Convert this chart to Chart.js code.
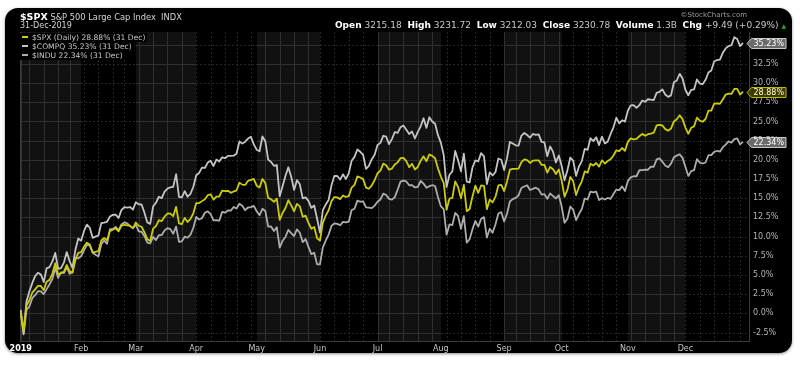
<!DOCTYPE html>
<html><head><meta charset="utf-8">
<script src="https://cdn.jsdelivr.net/npm/chart.js@4.4.1/dist/chart.umd.min.js"></script>
<style>
html,body{margin:0;padding:0;background:#fff;}
#wrap{position:relative;width:800px;height:370px;overflow:hidden;font-family:"DejaVu Sans",sans-serif;}
#panel{position:absolute;left:5px;top:8px;width:787px;height:345px;background:#000;border-radius:13px;box-shadow:0 1px 3px rgba(0,0,0,.45);}
canvas{position:absolute;left:0;top:0;}
.t{position:absolute;white-space:nowrap;color:#d4d4d4;}
.t b{color:#fff;}
.lg{position:absolute;left:20px;top:33px;font-size:7.6px;line-height:9px;color:#c8c8c8;}
.lg div{display:block;}
.lg span.row{background:#000;padding-right:2px;}
.mk{display:inline-block;width:6px;height:2px;margin:0 4px 2px 2px;vertical-align:middle;}
</style></head>
<body>
<div id="wrap">
  <div id="panel"></div>
  <canvas id="c" width="800" height="370"></canvas>
  <div class="t" style="left:20px;top:11px;font-size:8.3px;line-height:11px;"><b style="font-size:9.5px;">$SPX</b> S&amp;P 500 Large Cap Index&nbsp; INDX</div>
  <div class="t" style="left:20px;top:21px;font-size:8px;line-height:10px;">31-Dec-2019</div>
  <div class="lg">
    <div><span class="row"><span class="mk" style="background:#cccc00"></span>$SPX (Daily) 28.88% (31 Dec)</span></div>
    <div><span class="row"><span class="mk" style="background:#c4c4c4"></span>$COMPQ 35.23% (31 Dec)</span></div>
    <div><span class="row"><span class="mk" style="background:#adadad"></span>$INDU 22.34% (31 Dec)</span></div>
  </div>
  <div class="t" style="right:53px;top:10px;font-size:7px;line-height:10px;color:#9a9a9a;">©StockCharts.com</div>
  <div class="t" style="right:14px;top:20px;font-size:9px;line-height:11px;color:#c8c8c8;"><b>Open</b> 3215.18 &nbsp;<b>High</b> 3231.72 &nbsp;<b>Low</b> 3212.03 &nbsp;<b>Close</b> 3230.78 &nbsp;<b>Volume</b> 1.3B &nbsp;<b>Chg</b> +9.49 (+0.29%) <span style="color:#19b219;font-size:6px;">▲</span></div>
</div>
<script>
// ---- data ----
const monthNames = ['Jan','Feb','Mar','Apr','May','Jun','Jul','Aug','Sep','Oct','Nov','Dec'];
const monthTickLabels = ['2019','Feb','Mar','Apr','May','Jun','Jul','Aug','Sep','Oct','Nov','Dec'];
const tradingDays = [
  [2,3,4,7,8,9,10,11,14,15,16,17,18,22,23,24,25,28,29,30,31],
  [1,4,5,6,7,8,11,12,13,14,15,19,20,21,22,25,26,27,28],
  [1,4,5,6,7,8,11,12,13,14,15,18,19,20,21,22,25,26,27,28,29],
  [1,2,3,4,5,8,9,10,11,12,15,16,17,18,22,23,24,25,26,29,30],
  [1,2,3,6,7,8,9,10,13,14,15,16,17,20,21,22,23,24,28,29,30,31],
  [3,4,5,6,7,10,11,12,13,14,17,18,19,20,21,24,25,26,27,28],
  [1,2,3,5,8,9,10,11,12,15,16,17,18,19,22,23,24,25,26,29,30,31],
  [1,2,5,6,7,8,9,12,13,14,15,16,19,20,21,22,23,26,27,28,29,30],
  [3,4,5,6,9,10,11,12,13,16,17,18,19,20,23,24,25,26,27,30],
  [1,2,3,4,7,8,9,10,11,14,15,16,17,18,21,22,23,24,25,28,29,30,31],
  [1,4,5,6,7,8,11,12,13,14,15,18,19,20,21,22,25,26,27,29],
  [2,3,4,5,6,9,10,11,12,13,16,17,18,19,20,23,24,26,27,30,31]
];
// % change since 31-Dec-2018
const spx = [
  0.13,-2.35,1.00,1.71,2.69,3.12,3.58,3.57,3.02,4.13,4.36,5.15,6.54,5.03,5.26,5.40,6.30,5.47,5.31,6.95,7.87,
  7.97,8.70,9.21,8.97,7.95,8.02,8.10,9.49,9.82,9.53,10.72,10.89,11.08,10.69,11.40,11.54,11.45,11.39,11.08,
  11.84,11.41,11.28,10.56,9.66,9.42,11.03,11.36,12.13,12.03,12.59,13.01,12.99,12.66,13.88,11.72,11.63,12.43,11.91,12.31,13.07,
  14.37,14.37,14.62,14.86,15.39,15.51,14.81,15.21,15.22,15.98,15.91,15.96,15.70,15.88,16.00,17.03,16.77,16.73,17.27,17.40,17.51,
  16.63,16.38,17.50,16.98,15.05,14.86,14.52,14.94,12.17,13.07,13.73,14.74,14.07,13.30,14.26,13.94,12.58,12.73,11.79,11.02,11.25,9.78,
  9.48,11.82,12.74,13.43,14.62,15.15,15.11,14.88,15.35,15.16,15.27,16.39,16.74,17.84,17.70,17.49,16.38,16.23,16.68,17.35,
  18.25,18.60,19.51,19.29,18.71,18.86,19.40,19.67,20.22,20.24,19.83,19.05,19.48,18.74,19.07,19.89,20.45,19.82,20.70,20.51,20.20,18.89,
  17.82,16.96,13.48,14.96,15.04,17.20,16.43,14.99,16.73,13.31,13.59,15.23,16.63,15.70,16.66,16.60,13.57,14.82,14.45,15.20,16.66,16.74,
  15.93,17.19,18.71,18.82,18.81,18.85,19.71,20.05,19.97,19.59,19.90,19.94,19.94,19.36,19.34,18.34,19.07,18.78,18.15,18.74,
  17.29,15.19,16.11,17.76,17.23,15.41,16.46,17.20,18.49,18.32,19.50,19.26,19.59,19.12,19.94,19.51,19.85,20.08,20.57,21.24,21.14,21.54,21.17,
  22.34,22.79,22.65,22.73,23.07,23.38,23.14,23.34,23.42,23.53,24.48,24.54,24.47,24.00,23.80,24.07,25.00,25.28,25.80,25.30,
  24.21,23.39,24.17,24.36,25.49,25.10,24.96,25.32,26.40,26.41,27.31,27.35,27.30,27.86,28.50,28.61,28.58,29.24,29.25,28.50,28.88
];
const compq = [
  0.46,-2.59,1.56,2.84,3.94,4.85,5.29,5.07,4.08,5.86,6.02,6.77,7.87,5.80,5.89,6.60,7.98,6.79,5.92,8.26,9.74,
  9.47,10.73,11.56,11.15,9.84,9.99,10.14,11.75,11.83,11.93,12.62,12.83,12.87,12.42,13.45,13.85,13.78,13.85,13.52,
  14.47,14.20,14.18,13.12,11.85,11.65,13.91,14.40,15.19,15.01,15.87,16.26,16.41,16.48,18.14,15.18,15.11,15.92,15.19,15.58,16.49,
  17.99,18.29,18.99,18.94,19.64,19.87,19.20,20.03,19.77,20.33,20.21,20.51,20.52,20.54,20.80,22.39,22.11,22.36,22.77,23.01,22.01,
  21.32,21.12,23.04,22.43,20.02,19.71,19.22,19.32,15.25,16.57,17.89,19.03,17.80,16.08,17.34,16.81,14.97,15.10,14.65,13.75,14.05,12.33,
  10.52,13.44,14.17,14.77,16.68,17.90,17.89,17.44,18.11,17.50,18.23,19.87,20.38,21.34,21.05,20.65,18.83,19.21,20.08,20.66,
  21.94,22.21,23.13,23.01,22.05,22.70,23.62,23.52,24.25,24.46,23.93,23.36,23.69,22.78,23.64,24.36,25.41,24.16,25.54,24.99,24.69,23.21,
  22.24,20.63,16.44,18.05,18.50,21.16,19.95,18.51,20.81,17.16,17.05,19.00,19.93,19.79,20.87,20.44,16.83,18.36,17.96,18.41,20.17,20.01,
  18.67,20.22,22.33,22.12,21.89,21.84,23.12,23.50,23.23,22.88,23.37,23.24,23.32,22.34,22.26,20.47,21.73,21.03,19.66,20.56,
  19.19,17.33,18.64,20.30,19.91,17.91,19.12,19.83,21.43,21.30,22.81,22.44,22.93,21.92,23.02,22.14,22.37,23.37,24.23,25.48,24.74,25.15,24.97,
  26.39,27.10,27.12,26.76,27.12,27.73,27.56,27.89,27.83,27.79,28.72,28.86,29.17,28.51,28.20,28.40,30.10,30.33,31.20,30.60,
  29.13,28.41,29.11,29.17,30.46,29.94,29.85,30.42,31.38,31.64,32.84,32.98,33.04,33.94,34.51,34.82,34.93,35.98,35.74,34.82,35.23
];
const indu = [
  0.08,-2.75,0.45,0.87,1.97,2.36,2.89,2.87,2.50,3.16,3.77,4.47,5.91,4.62,5.35,5.25,6.04,5.15,5.37,7.23,7.17,
  7.44,8.20,8.93,8.84,7.90,7.63,7.40,9.00,9.50,9.05,10.96,10.99,11.26,10.82,11.59,11.85,11.71,11.39,11.10,
  11.57,10.68,10.63,10.06,9.20,9.10,9.96,9.55,10.18,10.21,10.81,11.09,10.97,10.37,11.30,9.32,9.39,9.99,9.85,10.25,11.15,
  12.56,12.22,12.39,13.11,13.28,12.92,12.10,12.13,12.07,13.22,13.11,13.40,13.38,13.86,13.65,14.27,14.02,13.44,13.79,13.83,14.00,
  13.30,12.78,13.62,13.34,11.31,11.32,10.72,11.21,8.56,9.45,9.95,10.87,10.44,10.08,10.93,10.50,9.27,9.68,8.66,7.71,7.90,6.38,
  6.40,8.59,9.48,10.26,11.39,11.73,11.66,11.48,11.91,11.84,11.94,13.45,13.62,14.69,14.54,14.58,13.81,13.76,13.71,14.03,
  14.53,14.83,15.60,15.41,14.91,14.82,15.14,16.12,17.17,17.28,17.18,16.69,16.70,16.40,16.48,17.24,16.90,16.35,16.57,16.69,16.59,15.16,
  13.96,13.54,10.25,11.58,11.49,13.08,12.69,11.01,12.66,9.22,9.65,10.97,12.04,11.30,12.33,12.54,9.87,11.02,10.50,11.61,13.01,13.19,
  11.96,12.98,14.58,14.88,15.04,15.36,16.33,16.53,16.68,16.07,16.22,16.37,16.15,15.47,15.53,14.92,15.62,15.28,14.97,15.39,
  13.91,11.79,12.32,13.92,13.51,12.16,12.94,13.59,14.96,14.83,15.85,15.75,15.85,14.76,15.00,14.83,15.03,14.91,15.56,16.13,16.05,16.54,15.94,
  17.23,17.72,17.86,17.86,18.64,18.66,18.71,18.71,19.10,19.10,20.05,20.19,19.75,19.26,19.03,19.50,20.32,20.55,20.73,20.25,
  19.10,17.90,18.53,18.65,20.09,19.64,19.52,19.65,20.60,20.61,21.04,21.18,21.06,21.65,21.98,22.39,22.24,22.69,22.80,22.01,22.34
];
const seriesNames = ['$SPX', '$COMPQ', '$INDU'];

// ---- derived structure ----
const dates = [];
const monthStart = [];
tradingDays.forEach((days, m) => {
  monthStart.push(dates.length);
  days.forEach(d => dates.push({ m, d, dow: new Date(2019, m, d).getDay(), label: d + ' ' + monthNames[m] + ' 2019' }));
});
const weekStarts = dates.map((o, i) => (i === 0 || o.dow <= dates[i - 1].dow) ? i : -1).filter(i => i >= 0);
const toXY = arr => arr.map((v, i) => ({ x: i, y: v }));

const bandPlugin = {
  id: 'bands',
  beforeDatasetsDraw(chart) {
    const { ctx, chartArea: a, scales: { x, y } } = chart;
    ctx.save();
    ctx.beginPath(); ctx.rect(a.left, a.top, a.width, a.height); ctx.clip();
    monthStart.forEach((s, m) => {
      const e = m < 11 ? monthStart[m + 1] : dates.length;
      const x0 = m === 0 ? a.left : Math.round(x.getPixelForValue(s));
      const x1 = m === 11 ? a.right : Math.round(x.getPixelForValue(e));
      const light = m % 2 === 0;
      if (light) { ctx.fillStyle = '#111111'; ctx.fillRect(x0, a.top, x1 - x0, a.height); }
      ctx.lineWidth = 1;
      ctx.strokeStyle = light ? '#303030' : '#242424';
      ctx.setLineDash(light ? [] : [2, 2]);
      y.ticks.forEach(t => {
        const py = Math.round(y.getPixelForValue(t.value)) + 0.5;
        ctx.beginPath(); ctx.moveTo(x0, py); ctx.lineTo(x1, py); ctx.stroke();
      });
      weekStarts.filter(i => i >= s && i < e).forEach(i => {
        const px = Math.round(x.getPixelForValue(i)) + 0.5;
        ctx.beginPath(); ctx.moveTo(px, a.top); ctx.lineTo(px, a.bottom); ctx.stroke();
      });
    });
    ctx.setLineDash([]);
    ctx.strokeStyle = '#3c3c3c';
    ctx.beginPath(); ctx.moveTo(a.left + 0.5, a.top); ctx.lineTo(a.left + 0.5, a.bottom); ctx.stroke();
    ctx.restore();
  }
};

const boxStyles = [
  { fill: '#3b3b00', stroke: '#b8b800', text: '#ffffc8' },
  { fill: '#6a6a6a', stroke: '#c8c8c8', text: '#ffffff' },
  { fill: '#6a6a6a', stroke: '#c8c8c8', text: '#ffffff' }
];
const lastLabelPlugin = {
  id: 'lastLabels',
  afterDraw(chart) {
    const { ctx, chartArea: a } = chart;
    ctx.save();
    ctx.font = '8px "DejaVu Sans"';
    ctx.textBaseline = 'middle';
    chart.data.datasets.forEach((ds, di) => {
      const meta = chart.getDatasetMeta(di);
      const pt = meta.data[meta.data.length - 1];
      const v = ds.data[ds.data.length - 1].y;
      const txt = v.toFixed(2) + '%';
      const w = ctx.measureText(txt).width + 4;
      const yc = Math.round(pt.y) + 0.5, h = 10, x0 = a.right + 2.5;
      const st = boxStyles[di];
      ctx.beginPath();
      ctx.moveTo(a.right - 2, yc);
      ctx.lineTo(x0, yc - h / 2); ctx.lineTo(x0 + w, yc - h / 2);
      ctx.lineTo(x0 + w, yc + h / 2); ctx.lineTo(x0, yc + h / 2); ctx.closePath();
      ctx.fillStyle = st.fill; ctx.fill();
      ctx.lineWidth = 1; ctx.strokeStyle = st.stroke; ctx.stroke();
      ctx.fillStyle = st.text;
      ctx.fillText(txt, x0 + 2, yc + 0.5);
    });
    ctx.restore();
  }
};

new Chart(document.getElementById('c'), {
  type: 'line',
  data: {
    datasets: [
      { label: seriesNames[0], data: toXY(spx), borderColor: '#cccc00', borderWidth: 1.8 },
      { label: seriesNames[1], data: toXY(compq), borderColor: '#c4c4c4', borderWidth: 1.8 },
      { label: seriesNames[2], data: toXY(indu), borderColor: '#adadad', borderWidth: 1.8 }
    ]
  },
  options: {
    responsive: false,
    animation: false,
    devicePixelRatio: 1,
    layout: { padding: { left: 20, top: 32, right: 0, bottom: 0 } },
    elements: { point: { radius: 0 }, line: { tension: 0, borderJoinStyle: 'round' } },
    plugins: { legend: { display: false }, tooltip: { enabled: false } },
    scales: {
      x: {
        type: 'linear',
        min: -0.25, max: 253.1,
        grid: { display: false, drawTicks: false },
        border: { display: true, color: '#3c3c3c' },
        afterBuildTicks: s => { s.ticks = monthStart.map(v => ({ value: v })); },
        afterFit: s => { s.height = 29; },
        ticks: {
          autoSkip: false, maxRotation: 0, padding: 3,
          callback: v => { const k = monthStart.indexOf(v); return k >= 0 ? monthTickLabels[k] : ''; },
          color: c => c.index === 0 ? '#ffffff' : '#c4c4c4',
          font: c => ({ family: 'DejaVu Sans', size: 8, weight: c.index === 0 ? 'bold' : 'normal' })
        }
      },
      y: {
        position: 'right',
        min: -3.6, max: 36.65,
        grid: { display: false, drawTicks: false },
        border: { display: true, color: '#3c3c3c' },
        afterFit: s => { s.width = 51; },
        ticks: {
          stepSize: 2.5, includeBounds: false, padding: 4,
          color: '#b4b4b4',
          font: { family: 'DejaVu Sans', size: 8 },
          callback: v => v.toFixed(1) + '%'
        }
      }
    }
  },
  plugins: [bandPlugin, lastLabelPlugin]
});
</script>
</body></html>
